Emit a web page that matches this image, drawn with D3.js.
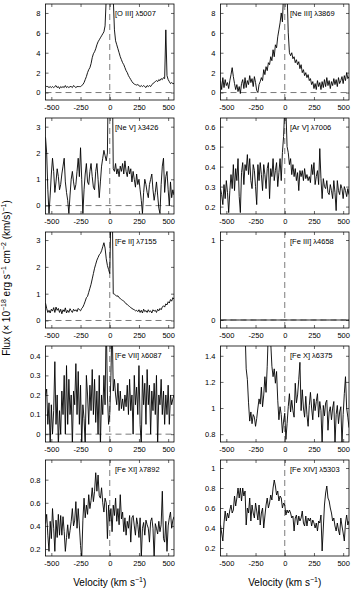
<!DOCTYPE html>
<html>
<head>
<meta charset="utf-8">
<script src="https://cdn.jsdelivr.net/npm/d3@7"></script>
<style>
  body { margin: 0; background: #fff; }
  svg { display: block; font-family: "Liberation Sans", Arial, Helvetica, sans-serif; }
</style>
</head>
<body>
<svg id="chart" width="354" height="593"></svg>
<script>
// velocity grid (km/s), shared by all panels
var velocity = [
  -550, -540, -530, -520, -510, -500, -490, -480, -470, -460,
  -450, -440, -430, -420, -410, -400, -390, -380, -370, -360,
  -350, -340, -330, -320, -310, -300, -290, -280, -270, -260,
  -250, -240, -230, -220, -210, -200, -190, -180, -170, -160,
  -150, -140, -130, -120, -110, -100, -90, -80, -70, -60,
  -50, -40, -30, -20, -10, 0, 10, 20, 30, 40,
  50, 60, 70, 80, 90, 100, 110, 120, 130, 140,
  150, 160, 170, 180, 190, 200, 210, 220, 230, 240,
  250, 260, 270, 280, 290, 300, 310, 320, 330, 340,
  350, 360, 370, 380, 390, 400, 410, 420, 430, 440,
  450, 460, 470, 480, 490, 500, 510, 520, 530, 540, 550
]
var velocityTicks = [-500, -250, 0, 250, 500]

// flux, 1e-18 erg/s/cm2/(km/s)
var fluxOIII = [
  0.7, 0.6, 0.6, 0.5, 0.6, 0.5, 0.6, 0.5, 0.6, 0.7,
  0.5, 0.6, 0.4, 0.6, 0.5, 0.6, 0.5, 0.7, 0.5, 0.6,
  0.5, 0.6, 0.6, 0.5, 0.7, 0.6, 0.5, 0.6, 0.6, 0.6,
  0.6, 0.7, 0.8, 1.0, 1.3, 1.6, 2.0, 2.3, 2.5, 2.9,
  3.5, 3.9, 4.1, 4.4, 4.8, 5.1, 5.3, 5.5, 5.7, 5.9,
  6.1, 6.7, 9.5, 12, 14, 14, 13, 12, 9.5, 6.3,
  5.2, 4.8, 4.4, 4.0, 3.6, 3.3, 3.0, 2.8, 2.5, 2.2,
  2.0, 1.7, 1.5, 1.3, 1.1, 0.95, 0.85, 0.8, 0.75, 0.8,
  0.7, 0.6, 0.7, 0.6, 0.7, 0.6, 0.5, 0.7, 0.6, 0.7,
  0.6, 0.8, 0.9, 1.0, 1.1, 1.2, 1.1, 1.3, 1.2, 1.4,
  1.3, 1.5, 1.4, 6.3, 1.7, 1.3, 1.1, 0.9, 1.0, 0.9, 0.9
]
var fluxNeIII = [
  1.2, 0.3, 1.5, 0.5, 1.3, 0.7, 1.0, 0.4, 1.2, 1.8,
  2.5, 1.6, 0.9, 0.3, 0.8, 0.1, 0.6, -0.1, 0.9, 1.3,
  0.4, 1.5, 0.5, 1.2, 0.8, 1.7, 1.0, 1.4, 0.6, 1.6,
  1.0, 0.2, 0.0, 0.8, 1.1, 1.5, 1.2, 2.3, 1.8, 2.6,
  2.2, 3.0, 2.8, 3.6, 3.2, 4.3, 3.6, 4.8, 4.5, 5.6,
  6.3, 7.0, 8.0, 7.1, 10, 13, 12, 10, 6, 4.0,
  3.7, 4.0, 3.4, 3.6, 3.0, 3.3, 2.8, 3.1, 2.4, 2.8,
  2.0, 2.3, 1.7, 2.0, 1.5, 1.8, 1.2, 1.4, 0.8, 1.1,
  0.4, 0.9, 0.3, 1.2, 0.6, 1.0, 0.3, 1.1, 0.5, 1.3,
  0.6, 1.5, 0.7, 1.2, 0.4, 1.1, 0.7, 1.4, 0.8, 1.3,
  0.6, 1.5, 0.9, 1.2, 1.6, 0.9, 1.7, 1.2, 2.0, 1.4, 1.6
]
var fluxNeV = [
  2.6, 2.0, 0.6, -0.3, 0.4, 1.2, 1.8, 1.3, 0.5, 0.9,
  1.4, 1.1, 0.6, 0.8, 1.2, 1.5, 1.8, 0.9, 0.5, 0.2,
  -0.3, 0.4, 1.0, 1.3, 0.9, 0.6, 0.8, 1.3, 1.8, 1.1,
  2.2, 1.0, -0.3, 0.6, 1.2, 1.6, 0.9, 0.8, 1.3, 1.6,
  1.1, 0.7, 0.6, 1.3, 1.6, 1.0, 0.3, 0.9, 1.5, 1.8,
  2.1, 1.9, 1.7, 2.0, 6, 8, 8, 6, 1.4, 1.3,
  1.6, 1.2, 1.4, 1.1, 1.5, 1.3, 1.6, 1.2, 1.7, 1.3,
  1.1, 1.5, 1.2, 1.4, 0.9, 1.3, 1.0, 0.7, 1.2, 0.8,
  1.0, 0.6, 0.2, -0.3, 0.5, 1.0, 0.8, 0.5, 0.3, 0.8,
  1.0, 1.2, 0.6, 0.2, 0.5, 0.9, 0.4, -0.1, -0.3, 0.8,
  1.5, 1.8, 0.5, 1.1, 1.3, 0.6, 0.0, 0.9, 0.3, 0.6, 0.4
]
var fluxArV = [
  0.29, 0.26, 0.21, 0.31, 0.24, 0.33, 0.27, 0.17, 0.28, 0.36,
  0.29, 0.41, 0.28, 0.39, 0.33, 0.44, 0.25, 0.17, 0.37, 0.42,
  0.31, 0.41, 0.38, 0.46, 0.36, 0.44, 0.33, 0.29, 0.41, 0.38,
  0.3, 0.21, 0.41, 0.33, 0.42, 0.36, 0.28, 0.41, 0.36, 0.29,
  0.39, 0.42, 0.24, 0.39, 0.35, 0.44, 0.33, 0.38, 0.42, 0.3,
  0.37, 0.44, 0.33, 0.47, 0.55, 0.7, 0.68, 0.5, 0.47, 0.41,
  0.44, 0.36, 0.41, 0.35, 0.39, 0.33, 0.37, 0.28, 0.38, 0.35,
  0.38, 0.33, 0.39, 0.34, 0.36, 0.33, 0.35, 0.32, 0.41, 0.36,
  0.42, 0.31, 0.35, 0.38, 0.31, 0.49, 0.34, 0.24, 0.34, 0.3,
  0.29, 0.33, 0.27, 0.26, 0.31, 0.28, 0.24, 0.33, 0.27, 0.18,
  0.33, 0.28, 0.26, 0.31, 0.29, 0.24, 0.3, 0.28, 0.25, 0.29, 0.26
]
var fluxFeII = [
  0.65, 0.45, 0.3, 0.38, 0.28, 0.42, 0.35, 0.48, 0.3, 0.5,
  0.38, 0.45, 0.3, 0.42, 0.25, 0.4, 0.33, 0.47, 0.28, 0.38,
  0.3, 0.44, 0.36, 0.3, 0.42, 0.35, 0.4, 0.33, 0.45, 0.4,
  0.36, 0.45, 0.5, 0.6, 0.72, 0.85, 0.9, 1.05, 1.2, 1.35,
  1.55, 1.75, 1.95, 2.1, 2.25, 2.35, 2.45, 2.5, 2.6, 2.75,
  2.9, 2.7, 2.3, 2.05, 1.9, 1.75, 4.0, 5.0, 1.0, 0.98,
  0.95, 0.9, 0.92, 0.85, 0.82, 0.78, 0.75, 0.72, 0.68, 0.62,
  0.6, 0.55, 0.52, 0.48, 0.45, 0.42, 0.4, 0.36, 0.38, 0.33,
  0.4, 0.3, 0.38, 0.28, 0.42, 0.33, 0.37, 0.3, 0.4, 0.32,
  0.36, 0.28, 0.4, 0.35, 0.38, 0.3, 0.42, 0.36, 0.45, 0.4,
  0.5, 0.55, 0.5, 0.62, 0.58, 0.7, 0.65, 0.78, 0.72, 0.85, 0.8
]
var fluxFeIII = [
  0, 0, 0, 0, 0, 0, 0, 0, 0, 0,
  0, 0, 0, 0, 0, 0, 0, 0, 0, 0,
  0, 0, 0, 0, 0, 0, 0, 0, 0, 0,
  0, 0, 0, 0, 0, 0, 0, 0, 0, 0,
  0, 0, 0, 0, 0, 0, 0, 0, 0, 0,
  0, 0, 0, 0, 0, 0, 0, 0, 0, 0,
  0, 0, 0, 0, 0, 0, 0, 0, 0, 0,
  0, 0, 0, 0, 0, 0, 0, 0, 0, 0,
  0, 0, 0, 0, 0, 0, 0, 0, 0, 0,
  0, 0, 0, 0, 0, 0, 0, 0, 0, 0,
  0, 0, 0, 0, 0, 0, 0, 0, 0, 0, 0
]
var fluxFeVII = [
  0.2, 0.23, 0.05, 0.16, -0.06, 0.15, 0.0, 0.12, 0.37, 0.05,
  0.2, -0.06, 0.12, 0.0, 0.22, 0.1, 0.3, 0.0, 0.35, 0.05,
  0.28, 0.1, 0.2, -0.06, 0.22, 0.15, 0.36, 0.1, 0.32, 0.05,
  0.25, -0.06, 0.15, 0.08, -0.06, 0.3, 0.2, 0.05, 0.25, 0.12,
  0.33, 0.1, 0.28, 0.06, 0.22, 0.0, 0.3, -0.06, 0.2, 0.1,
  0.3, 0.15, 0.6, 0.2, 0.05, 0.1, 0.3, 0.6, 0.22, 0.28,
  0.2, 0.15, 0.26, 0.12, 0.22, 0.13, 0.18, 0.12, 0.2, 0.14,
  0.25, 0.1, 0.28, 0.12, 0.2, 0.0, 0.3, 0.15, 0.24, 0.1,
  0.35, 0.05, -0.06, 0.3, 0.15, 0.26, 0.05, 0.33, 0.15, 0.25,
  0.0, 0.22, 0.12, 0.26, 0.1, 0.3, -0.06, 0.2, 0.15, 0.28,
  0.1, 0.22, 0.05, 0.2, 0.1, 0.25, 0.05, 0.2, 0.15, 0.18, 0.2
]
var fluxFeX = [
  2.2, 2.0, 2.3, 2.1, 2.4, 2.2, 2.0, 2.3, 2.1, 2.2,
  2.0, 2.3, 2.1, 2.2, 1.9, 2.1, 2.0, 1.9, 1.8, 1.8,
  1.7, 1.6, 1.3, 1.22, 1.04, 0.9, 0.97, 0.88, 0.95, 0.93,
  0.86, 0.92, 1.0, 1.07, 1.03, 1.16, 1.01, 1.1, 1.24, 1.12,
  1.32, 1.6, 1.8, 1.5, 1.32, 1.24, 1.3, 1.19, 1.28, 1.06,
  0.91, 1.01, 0.95, 0.81, 0.9, 0.96, 0.76, 0.88, 1.01, 1.11,
  0.97, 1.06, 0.98, 0.93, 1.19, 1.04, 1.1, 1.22, 1.35, 0.98,
  1.14, 1.0, 0.93, 1.09, 0.95, 0.86, 1.02, 1.12, 1.0, 0.91,
  1.07, 0.98, 1.05, 1.11, 0.93, 1.05, 0.98, 0.72, 1.02, 0.94,
  1.04, 1.06, 0.83, 0.97, 1.01, 0.91, 1.0, 1.05, 0.72, 0.95,
  1.02, 0.88, 0.97, 1.01, 0.72, 0.95, 1.11, 1.24, 1.0, 0.93, 0.85
]
var fluxFeXI = [
  0.42, 0.5, 0.32, 0.18, 0.44, 0.29, 0.55, 0.38, 0.18, 0.45,
  0.3, 0.5, 0.32, 0.49, 0.32, 0.48, 0.35, 0.18, 0.3, 0.41,
  0.29, 0.36, 0.44, 0.55, 0.4, 0.45, 0.61, 0.38, 0.55, 0.4,
  0.23, 0.12, 0.45, 0.64, 0.47, 0.58, 0.5, 0.67, 0.55, 0.62,
  0.73, 0.61, 0.7, 0.86, 0.7, 0.84, 0.66, 0.64, 0.73, 0.6,
  0.52, 0.64, 0.6, 0.29, 0.58, 0.44, 0.55, 0.35, 0.58, 0.49,
  0.64, 0.44, 0.55, 0.41, 0.67, 0.46, 0.52, 0.35, 0.47, 0.32,
  0.44, 0.38, 0.49, 0.26, 0.47, 0.49, 0.4, 0.32, 0.47, 0.41,
  0.3, 0.47, 0.12, 0.38, 0.43, 0.32, 0.45, 0.41, 0.38, 0.26,
  0.44, 0.47, 0.38, 0.12, 0.42, 0.38, 0.33, 0.44, 0.35, 0.41,
  0.7, 0.29, 0.26, 0.44, 0.18, 0.4, 0.47, 0.52, 0.38, 0.45, 0.48
]
var fluxFeXIV = [
  0.43, 0.35, 0.27, 0.45, 0.57, 0.47, 0.55, 0.5, 0.58, 0.63,
  0.55, 0.58, 0.72, 0.62, 0.7, 0.8, 0.7, 0.8, 0.67, 0.8,
  0.72, 0.77, 0.43, 0.6, 0.55, 0.7, 0.47, 0.63, 0.55, 0.5,
  0.65, 0.57, 0.48, 0.63, 0.43, 0.55, 0.6, 0.4, 0.52, 0.63,
  0.7, 0.6, 0.65, 0.73, 0.68, 0.8, 0.88, 0.82, 0.73, 0.77,
  0.67, 0.72, 0.7, 0.6, 0.65, 0.63, 0.53, 0.58, 0.55, 0.58,
  0.55, 0.5, 0.52, 0.37, 0.5, 0.53, 0.43, 0.52, 0.47, 0.5,
  0.57, 0.45, 0.42, 0.52, 0.42, 0.5, 0.47, 0.5, 0.42, 0.48,
  0.45, 0.4, 0.45, 0.37, 0.47, 0.45, 0.53, 0.17, 0.4, 0.63,
  0.75, 0.82, 0.7, 0.67, 0.6, 0.55, 0.47, 0.5, 0.42, 0.37,
  0.45, 0.38, 0.33, 0.5, 0.42, 0.35, 0.27, 0.45, 0.53, 0.43, 0.47
]

var lineNames = ["[O III] \u03bb5007", "[Ne III] \u03bb3869", "[Ne V] \u03bb3426", "[Ar V] \u03bb7006",
  "[Fe II] \u03bb7155", "[Fe III] \u03bb4658", "[Fe VII] \u03bb6087", "[Fe X] \u03bb6375",
  "[Fe XI] \u03bb7892", "[Fe XIV] \u03bb5303"]
var yLimits = [[-0.75, 8.9], [-0.75, 8.9], [-0.32, 3.33], [0.163, 0.643], [-0.28, 3.3],
  [-0.1, 1.1], [-0.04, 0.45], [0.74, 1.475], [0.14, 0.97], [0.12, 1.08]]
var yTickValues = [[0, 2, 4, 6, 8], [0, 2, 4, 6, 8], [0, 1, 2, 3], [0.2, 0.3, 0.4, 0.5, 0.6], [0, 1, 2, 3],
  [0, 1], [0, 0.1, 0.2, 0.3, 0.4], [0.8, 1, 1.2, 1.4], [0.2, 0.4, 0.6, 0.8], [0.2, 0.4, 0.6, 0.8, 1]]

var series = [fluxOIII, fluxNeIII, fluxNeV, fluxArV, fluxFeII, fluxFeIII, fluxFeVII, fluxFeX, fluxFeXI, fluxFeXIV]

var svg = d3.select('#chart')
var colLeft = [45.5, 220.5]
var W = 128.5, H = 96, rowStep = 114, firstTop = 4

var x = d3.scaleLinear().domain([-550, 550]).range([0, W])

series.forEach(function(flux, i) {
  var left = colLeft[i % 2]
  var top = firstTop + Math.floor(i / 2) * rowStep
  var y = d3.scaleLinear().domain(yLimits[i]).range([H, 0])

  var g = svg.append('g').attr('transform', 'translate(' + left + ',' + top + ')')
  g.append('clipPath').attr('id', 'clip' + i)
    .append('rect').attr('width', W).attr('height', H)
  var plot = g.append('g').attr('clip-path', 'url(#clip' + i + ')')

  // dashed reference lines at v = 0 and flux = 0
  plot.append('line')
    .attr('x1', x(0)).attr('x2', x(0)).attr('y1', 0).attr('y2', H)
    .attr('stroke', '#222').attr('stroke-width', 0.6).attr('stroke-dasharray', '6,4')
  if (yLimits[i][0] < 0) {
    plot.append('line')
      .attr('x1', 0).attr('x2', W).attr('y1', y(0)).attr('y2', y(0))
      .attr('stroke', '#222').attr('stroke-width', 0.6).attr('stroke-dasharray', '6,4')
  }

  var line = d3.line()
    .x(function(d, j) { return x(velocity[j]) })
    .y(function(d) { return y(d) })
  plot.append('path').datum(flux)
    .attr('d', line).attr('fill', 'none')
    .attr('stroke', '#000').attr('stroke-width', 0.9).attr('stroke-linejoin', 'round')

  // axes, ticks pointing inward on all four sides
  var fmt = function(d) { return String(d) }
  var bottom = g.append('g').attr('transform', 'translate(0,' + H + ')')
    .call(d3.axisBottom(x).tickValues(velocityTicks).tickSize(-3).tickSizeOuter(0).tickPadding(5).tickFormat(fmt))
  var leftAx = g.append('g')
    .call(d3.axisLeft(y).tickValues(yTickValues[i]).tickSize(-3).tickSizeOuter(0).tickPadding(5).tickFormat(fmt))
  var topAx = g.append('g')
    .call(d3.axisTop(x).tickValues(velocityTicks).tickSize(-3).tickSizeOuter(0).tickFormat(''))
  var rightAx = g.append('g').attr('transform', 'translate(' + W + ',0)')
    .call(d3.axisRight(y).tickValues(yTickValues[i]).tickSize(-3).tickSizeOuter(0).tickFormat(''))

  ;[bottom, leftAx, topAx, rightAx].forEach(function(a) {
    a.select('.domain').remove()
    a.selectAll('line').attr('stroke', '#000').attr('stroke-width', 0.6)
    a.selectAll('text').attr('font-size', 7.5).attr('fill', '#000')
      .attr('font-family', '"Liberation Sans", Arial, sans-serif')
  })

  g.append('rect').attr('width', W).attr('height', H)
    .attr('fill', 'none').attr('stroke', '#000').attr('stroke-width', 0.8)

  g.append('text').attr('x', x(45)).attr('y', 12)
    .attr('font-size', 7.5).text(lineNames[i])
})

// shared axis titles
var yTitle = svg.append('text')
  .attr('transform', 'translate(10,278) rotate(-90)')
  .attr('text-anchor', 'middle').attr('font-size', 10)
yTitle.append('tspan').text('Flux (\u00d7 10')
yTitle.append('tspan').attr('dy', -4).attr('font-size', 7).text('\u221218')
yTitle.append('tspan').attr('dy', 4).text(' erg s')
yTitle.append('tspan').attr('dy', -4).attr('font-size', 7).text('\u22121')
yTitle.append('tspan').attr('dy', 4).text(' cm')
yTitle.append('tspan').attr('dy', -4).attr('font-size', 7).text('\u22122')
yTitle.append('tspan').attr('dy', 4).text(' (km/s)')
yTitle.append('tspan').attr('dy', -4).attr('font-size', 7).text('\u22121')
yTitle.append('tspan').attr('dy', 4).text(')')

colLeft.forEach(function(left) {
  var t = svg.append('text')
    .attr('x', left + W / 2).attr('y', 586)
    .attr('text-anchor', 'middle').attr('font-size', 10)
  t.append('tspan').text('Velocity (km s')
  t.append('tspan').attr('dy', -4).attr('font-size', 7).text('\u22121')
  t.append('tspan').attr('dy', 4).text(')')
})
</script>
</body>
</html>
